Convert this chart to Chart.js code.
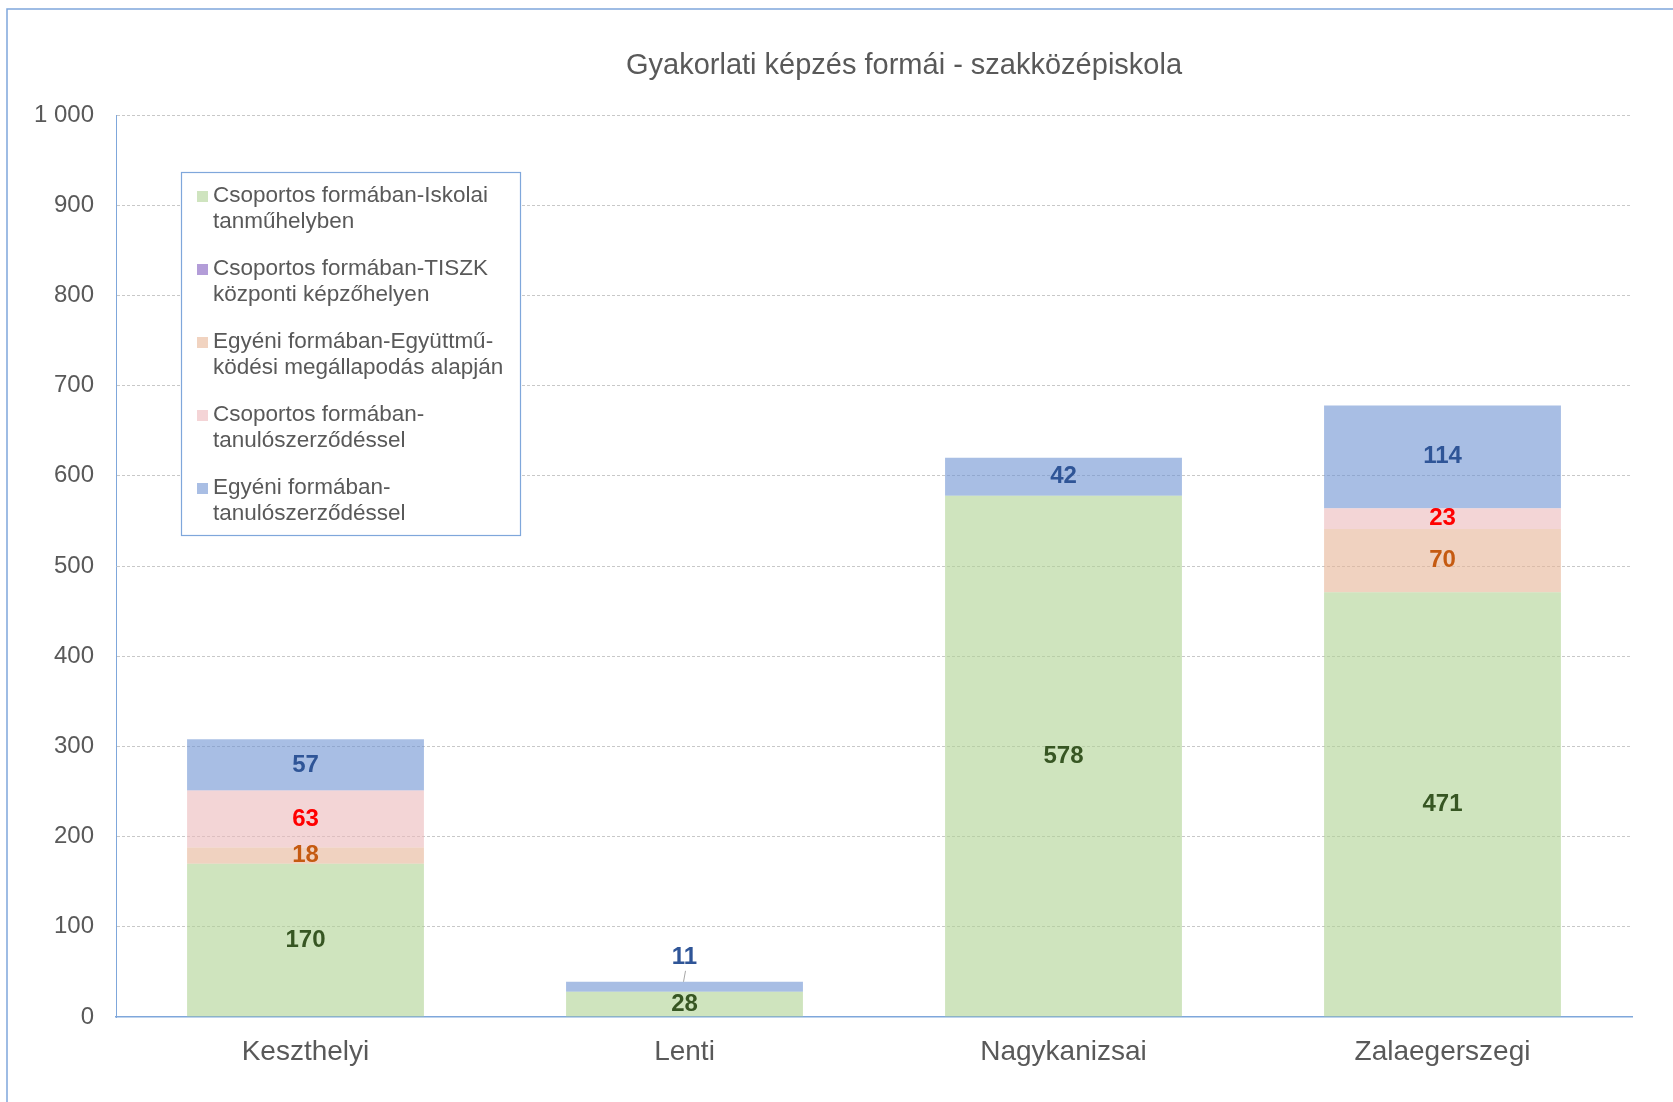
<!DOCTYPE html>
<html>
<head>
<meta charset="utf-8">
<script src="https://cdn.jsdelivr.net/npm/chart.js@4"></script>
<style>
  html, body { margin: 0; padding: 0; background: #fff; }
  canvas { display: block; }
</style>
</head>
<body>
<canvas id="chart" width="1673" height="1102"></canvas>
<script>
const chartTitle = 'Gyakorlati képzés formái - szakközépiskola';
const categories = ['Keszthelyi', 'Lenti', 'Nagykanizsai', 'Zalaegerszegi'];

const seriesNames = [
  'Csoportos formában-Iskolai tanműhelyben',
  'Csoportos formában-TISZK központi képzőhelyen',
  'Egyéni formában-Együttmű-ködési megállapodás alapján',
  'Csoportos formában-tanulószerződéssel',
  'Egyéni formában-tanulószerződéssel'
];
const iskolai = [170, 28, 578, 471];
const tiszk = [0, 0, 0, 0];
const egyuttmukodes = [18, 0, 0, 70];
const csoportosSzerzodes = [63, 0, 0, 23];
const egyeniSzerzodes = [57, 11, 42, 114];

const yMin = 0, yMax = 1000, yStep = 100;

// colours: fill (translucent so the grid shows through), legend swatch, label
const fills = ['rgba(175,210,147,0.6)', 'rgba(140,110,190,0.6)', 'rgba(230,180,150,0.6)',
               'rgba(235,185,187,0.6)', 'rgba(110,147,210,0.6)'];
const swatches = ['#CFE4BF', '#B39DD8', '#F1D3C0', '#F4D4D6', '#A9BEE4'];
const labelColors = ['#375623', '#7030A0', '#C55A11', '#FF0000', '#2F5597'];

const FONT = "'Liberation Sans', Arial, sans-serif";
const GREY = '#595959';
const BLUE = '#7FA7DB';

const allSeries = [iskolai, tiszk, egyuttmukodes, csoportosSzerzodes, egyeniSzerzodes];

function fmt(v) {
  return String(v).replace(/\B(?=(\d{3})+(?!\d))/g, ' ');
}

function wrap(ctx, text, maxW) {
  const tokens = text.split(/(?<=[ -])/);
  const lines = [];
  let cur = '';
  tokens.forEach(t => {
    if (cur && ctx.measureText((cur + t).trimEnd()).width > maxW) {
      lines.push(cur.trimEnd());
      cur = t;
    } else {
      cur += t;
    }
  });
  if (cur) lines.push(cur.trimEnd());
  return lines;
}

const decor = {
  id: 'decor',
  afterDatasetsDraw(chart) {
    const { ctx } = chart;
    ctx.save();
    ctx.font = 'bold 24px ' + FONT;
    ctx.textAlign = 'center';
    ctx.textBaseline = 'middle';
    chart.data.datasets.forEach((ds, i) => {
      const meta = chart.getDatasetMeta(i);
      meta.data.forEach((bar, j) => {
        const v = ds.data[j];
        if (!v) return;
        const h = bar.base - bar.y;
        ctx.fillStyle = labelColors[i];
        if (h >= 14) {
          ctx.fillText(v, bar.x, (bar.y + bar.base) / 2);
        } else {
          // too thin: label above with a small leader line
          const ly = bar.y - 24;
          ctx.fillText(v, bar.x, ly);
          ctx.strokeStyle = '#A6A6A6';
          ctx.lineWidth = 1;
          ctx.beginPath();
          ctx.moveTo(bar.x + 1, ly + 13);
          ctx.lineTo(bar.x - 1, bar.y);
          ctx.stroke();
        }
      });
    });
    ctx.restore();
  },
  afterDraw(chart) {
    const { ctx } = chart;
    ctx.save();

    // outer frame (only top and left edges are visible)
    ctx.strokeStyle = BLUE;
    ctx.lineWidth = 1.5;
    ctx.beginPath();
    ctx.moveTo(7, chart.height);
    ctx.lineTo(7, 9);
    ctx.lineTo(chart.width, 9);
    ctx.stroke();

    // title
    ctx.fillStyle = GREY;
    ctx.font = '29px ' + FONT;
    ctx.textAlign = 'center';
    ctx.textBaseline = 'middle';
    ctx.fillText(chartTitle, 904, 66);

    // legend box
    const bx = 181.5, by = 172.5, bw = 339, bh = 363;
    ctx.fillStyle = '#fff';
    ctx.fillRect(bx, by, bw, bh);
    ctx.strokeStyle = BLUE;
    ctx.lineWidth = 1.2;
    ctx.strokeRect(bx, by, bw, bh);

    ctx.font = '22.5px ' + FONT;
    ctx.textAlign = 'left';
    ctx.textBaseline = 'middle';
    seriesNames.forEach((name, i) => {
      const y0 = 196 + i * 73;
      ctx.fillStyle = swatches[i];
      ctx.fillRect(197, y0 - 5, 11, 11);
      ctx.fillStyle = GREY;
      wrap(ctx, name, 300).forEach((line, k) => {
        ctx.fillText(line, 213, y0 + k * 25.7);
      });
    });
    ctx.restore();
  }
};

new Chart(document.getElementById('chart'), {
  type: 'bar',
  data: {
    labels: categories,
    datasets: allSeries.map((d, i) => ({
      label: seriesNames[i],
      data: d,
      backgroundColor: fills[i],
      borderWidth: 0,
      barPercentage: 0.625,
      categoryPercentage: 1
    }))
  },
  options: {
    responsive: false,
    animation: false,
    layout: { padding: { left: 16, right: 41, top: 115, bottom: 0 } },
    plugins: {
      legend: { display: false },
      title: { display: false },
      tooltip: { enabled: false }
    },
    scales: {
      x: {
        stacked: true,
        z: 1,
        afterFit(scale) { scale.height = 85; },
        grid: { display: false, drawTicks: false },
        border: { color: BLUE, width: 1.5 },
        ticks: { color: GREY, font: { family: FONT, size: 28 }, padding: 18 }
      },
      y: {
        stacked: true,
        min: yMin,
        max: yMax,
        afterFit(scale) { scale.width = 100; },
        grid: {
          drawTicks: false,
          color: c => (c.tick && c.tick.value === 0) ? 'rgba(0,0,0,0)' : '#C8C8C8',
          lineWidth: 1
        },
        // in v4 border.dash sets the dash of the grid lines
        border: { color: BLUE, width: 1, dash: [3, 2] },
        ticks: {
          stepSize: yStep,
          color: GREY,
          font: { family: FONT, size: 24 },
          padding: 22,
          callback: v => fmt(v)
        }
      }
    }
  },
  plugins: [decor]
});
</script>
</body>
</html>
